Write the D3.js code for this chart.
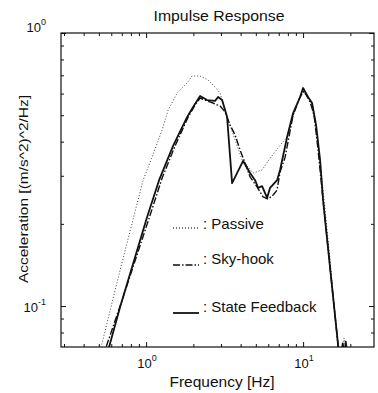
<!DOCTYPE html>
<html><head><meta charset="utf-8">
<script src="https://cdn.jsdelivr.net/npm/d3@7"></script>
<style>
html,body{margin:0;padding:0;background:#fff;}
text{font-family:"Liberation Sans",Arial,Helvetica,sans-serif;fill:#111;}
</style></head>
<body>
<svg id="c" width="378" height="393"></svg>
<script>
// ---- data (frequency in Hz, acceleration PSD) ----
const passiveF = [0.473,0.517,0.683,0.957,1.092,1.264,1.381,1.576,1.824,1.963,2.208,2.483,2.751,2.960,3.329,3.689,4.088,4.803,5.482,6.164,7.348,7.911,9.159,10.0,11.08,12.10,12.83,14.86,16.71,17.21,18.24,19.06];
const passiveA = [0.058,0.0708,0.1355,0.289,0.351,0.441,0.522,0.603,0.656,0.696,0.696,0.673,0.634,0.603,0.480,0.406,0.343,0.307,0.315,0.348,0.396,0.416,0.554,0.608,0.568,0.460,0.343,0.147,0.0708,0.066,0.0763,0.066];
const skyF = [0.509,0.556,0.703,1.060,1.264,1.530,1.851,2.051,2.208,2.446,2.672,2.960,3.186,3.428,3.689,3.970,4.272,4.597,5.093,5.563,5.985,6.443,6.830,7.137,7.683,8.640,9.570,10.15,11.08,11.75,12.46,13.41,16.71,17.21];
const skyA = [0.058,0.0708,0.105,0.215,0.294,0.386,0.492,0.545,0.578,0.564,0.554,0.540,0.514,0.460,0.423,0.373,0.334,0.297,0.273,0.251,0.2465,0.255,0.266,0.310,0.351,0.501,0.583,0.613,0.559,0.501,0.373,0.244,0.0720,0.0634];
const stateF = [0.524,0.581,0.683,1.015,1.210,1.486,1.824,1.993,2.208,2.446,2.751,2.875,3.049,3.281,3.530,4.149,4.597,4.946,5.168,5.482,5.899,6.164,6.830,7.137,7.911,8.640,9.570,10.0,10.76,11.41,12.10,12.83,13.41,14.86,16.71,17.21,17.9,18.3,18.7,19.2];
const stateA = [0.058,0.0708,0.0992,0.212,0.289,0.386,0.492,0.536,0.588,0.568,0.564,0.583,0.568,0.492,0.282,0.340,0.307,0.289,0.271,0.275,0.249,0.271,0.289,0.315,0.416,0.509,0.583,0.629,0.583,0.554,0.460,0.343,0.244,0.138,0.0720,0.0634,0.0730,0.066,0.0740,0.066];
const xMajorTicks = [1, 10];
const xMinorTicks = [0.3,0.4,0.5,0.6,0.7,0.8,0.9,2,3,4,5,6,7,8,9,20];
const yMajorTicks = [0.1, 1];
const yMinorTicks = [0.08,0.09,0.2,0.3,0.4,0.5,0.6,0.7,0.8,0.9];
const xTickExp = ["0","1"];
const yTickExp = ["-1","0"];
const legendLabels = [": Passive", ": Sky-hook", ": State Feedback"];

// ---- layout ----
const L = 61, R = 374, T = 33, B = 347;
const svg = d3.select("#c");
const x = d3.scaleLog().domain([0.287, 28.3]).range([L, R]);
const y = d3.scaleLog().domain([0.0708, 1]).range([B, T]);

svg.append("defs").append("clipPath").attr("id","clip")
  .append("rect").attr("x",L).attr("y",T).attr("width",R-L).attr("height",B-T);

// axes ticks (inward) on four sides
function ax(gen, tr, vals, size){
  const g = svg.append("g").attr("transform", tr)
    .call(gen.tickValues(vals).tickSize(size).tickFormat(""));
  g.select(".domain").remove();
  g.selectAll(".tick line").attr("stroke","#111").attr("stroke-width",1);
  return g;
}
ax(d3.axisBottom(x), `translate(0,${B})`, xMinorTicks, -3);
ax(d3.axisBottom(x), `translate(0,${B})`, xMajorTicks, -5);
ax(d3.axisTop(x), `translate(0,${T})`, xMinorTicks, -3);
ax(d3.axisTop(x), `translate(0,${T})`, xMajorTicks, -5);
ax(d3.axisLeft(y), `translate(${L},0)`, yMinorTicks, -3);
ax(d3.axisLeft(y), `translate(${L},0)`, yMajorTicks, -5);
ax(d3.axisRight(y), `translate(${R},0)`, yMinorTicks, -3);
ax(d3.axisRight(y), `translate(${R},0)`, yMajorTicks, -5);

svg.append("rect").attr("x",L).attr("y",T).attr("width",R-L).attr("height",B-T)
  .attr("fill","none").attr("stroke","#111").attr("stroke-width",1.2);

// tick labels
xMajorTicks.forEach((v,i)=>{
  const t = svg.append("text").attr("x", x(v)+1).attr("y", 368)
    .attr("text-anchor","middle").attr("font-size",13);
  t.append("tspan").text("10");
  t.append("tspan").attr("dy",-7).attr("font-size",9).text(xTickExp[i]);
});
const yOff = [6, -1];
yMajorTicks.forEach((v,i)=>{
  const t = svg.append("text").attr("x", 46).attr("y", y(v)+yOff[i])
    .attr("text-anchor","end").attr("font-size",13);
  t.append("tspan").text("10");
  t.append("tspan").attr("dy",-7).attr("font-size",9).text(yTickExp[i]);
});

// titles
svg.append("text").attr("x",219).attr("y",21).attr("text-anchor","middle")
  .attr("font-size",14).attr("textLength",131).attr("lengthAdjust","spacingAndGlyphs")
  .text("Impulse Response");
svg.append("text").attr("x",222).attr("y",387).attr("text-anchor","middle")
  .attr("font-size",14).attr("textLength",105).attr("lengthAdjust","spacingAndGlyphs")
  .text("Frequency [Hz]");
svg.append("text").attr("transform","translate(28,189) rotate(-90)").attr("text-anchor","middle")
  .attr("font-size",13.5).attr("textLength",188).attr("lengthAdjust","spacingAndGlyphs")
  .text("Acceleration [(m/s^2)^2/Hz]");

// curves
const line = d3.line().x(d=>x(d[0])).y(d=>y(d[1]));
const plot = svg.append("g").attr("clip-path","url(#clip)");
const series = [
  {f:passiveF, a:passiveA, dash:"1,2", w:1, col:"#444"},
  {f:skyF, a:skyA, dash:"7,2,1.5,2", w:1.4, col:"#111"},
  {f:stateF, a:stateA, dash:null, w:1.8, col:"#111"}
];
series.forEach(s=>{
  plot.append("path").datum(d3.zip(s.f, s.a)).attr("d", line)
    .attr("fill","none").attr("stroke",s.col).attr("stroke-width",s.w)
    .attr("stroke-dasharray", s.dash).attr("stroke-linejoin","round");
});

// legend
const legY = [228, 265, 313];
const legTY = [229, 264, 312];
series.forEach((s,i)=>{
  svg.append("line").attr("x1",173).attr("x2",199).attr("y1",legY[i]).attr("y2",legY[i])
    .attr("stroke",s.col).attr("stroke-width",s.w + (i==0?0.5:0)).attr("stroke-dasharray", s.dash);
  svg.append("text").attr("x",203).attr("y",legTY[i]).attr("font-size",15).text(legendLabels[i]);
});
</script>
</body></html>
